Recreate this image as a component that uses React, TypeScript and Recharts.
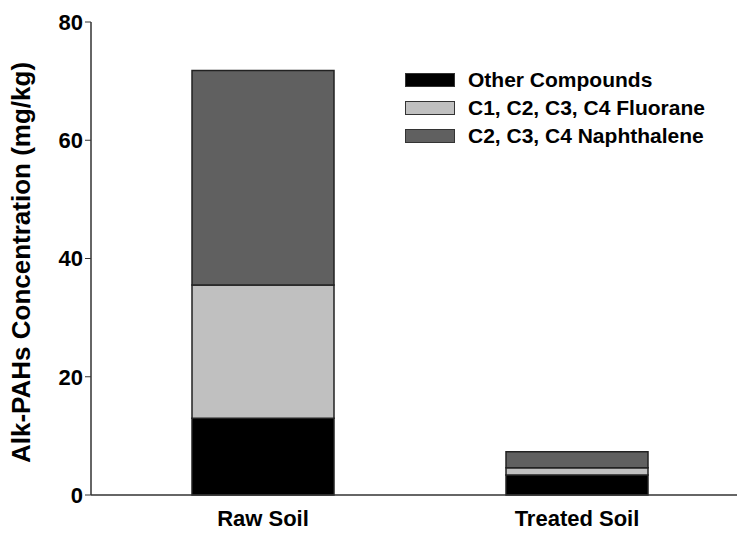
import React from 'react';
import { BarChart, Bar, XAxis, YAxis } from 'recharts';

const categories = ['Raw Soil', 'Treated Soil'];
const otherCompounds = [13.0, 3.4];
const fluorane = [22.5, 1.2];
const naphthalene = [36.3, 2.7];
const yTicks = [0, 20, 40, 60, 80];

const series = [
  { key: 'other', name: 'Other Compounds', color: '#000000' },
  { key: 'fluorane', name: 'C1, C2, C3, C4 Fluorane', color: '#c0c0c0' },
  { key: 'naph', name: 'C2, C3, C4 Naphthalene', color: '#606060' },
];

const data = categories.map((name, i) => ({
  name,
  other: otherCompounds[i],
  fluorane: fluorane[i],
  naph: naphthalene[i],
}));

const font = 'Liberation Sans, Arial, sans-serif';

// legend sits inside the plot, so keep it out of recharts' layout
const LegendBox = () => (
  <div
    style={{
      position: 'absolute',
      left: 405,
      top: 66,
      fontFamily: font,
      fontWeight: 'bold',
      fontSize: 21,
      color: '#000',
    }}
  >
    {series.map((s) => (
      <div key={s.key} style={{ display: 'flex', alignItems: 'center', height: 28 }}>
        <div
          style={{
            width: 48,
            height: 12,
            background: s.color,
            border: '1px solid #333',
            marginRight: 13,
          }}
        />
        <span>{s.name}</span>
      </div>
    ))}
  </div>
);

const App: React.FC = () => {
  return (
    <div style={{ position: 'absolute', left: 0, top: 0, width: 737, height: 534, background: '#fff' }}>
      <BarChart
        width={737}
        height={534}
        data={data}
        margin={{ top: 22, right: 0, left: 0, bottom: 0 }}
        barSize={142}
      >
        <XAxis
          dataKey="name"
          height={39}
          tickLine={false}
          axisLine={{ stroke: '#333', strokeWidth: 1.5 }}
          padding={{ left: 15, right: 3 }}
          tick={{ fontFamily: font, fontWeight: 'bold', fontSize: 22, fill: '#000' }}
          tickMargin={9}
        />
        <YAxis
          width={91}
          domain={[0, 80]}
          ticks={yTicks}
          tickSize={6}
          tickLine={{ stroke: '#333' }}
          axisLine={{ stroke: '#333', strokeWidth: 1.5 }}
          tick={{ fontFamily: font, fontWeight: 'bold', fontSize: 22, fill: '#000' }}
          label={{
            value: 'Alk-PAHs Concentration (mg/kg)',
            angle: -90,
            position: 'insideLeft',
            offset: 21,
            dy: 4,
            style: { fontFamily: font, fontWeight: 'bold', fontSize: 26, fill: '#000', textAnchor: 'middle' },
          }}
        />
        {series.map((s) => (
          <Bar
            key={s.key}
            dataKey={s.key}
            name={s.name}
            stackId="a"
            fill={s.color}
            stroke="#222"
            strokeWidth={1.5}
            isAnimationActive={false}
          />
        ))}
      </BarChart>
      <LegendBox />
    </div>
  );
};

export default App;
